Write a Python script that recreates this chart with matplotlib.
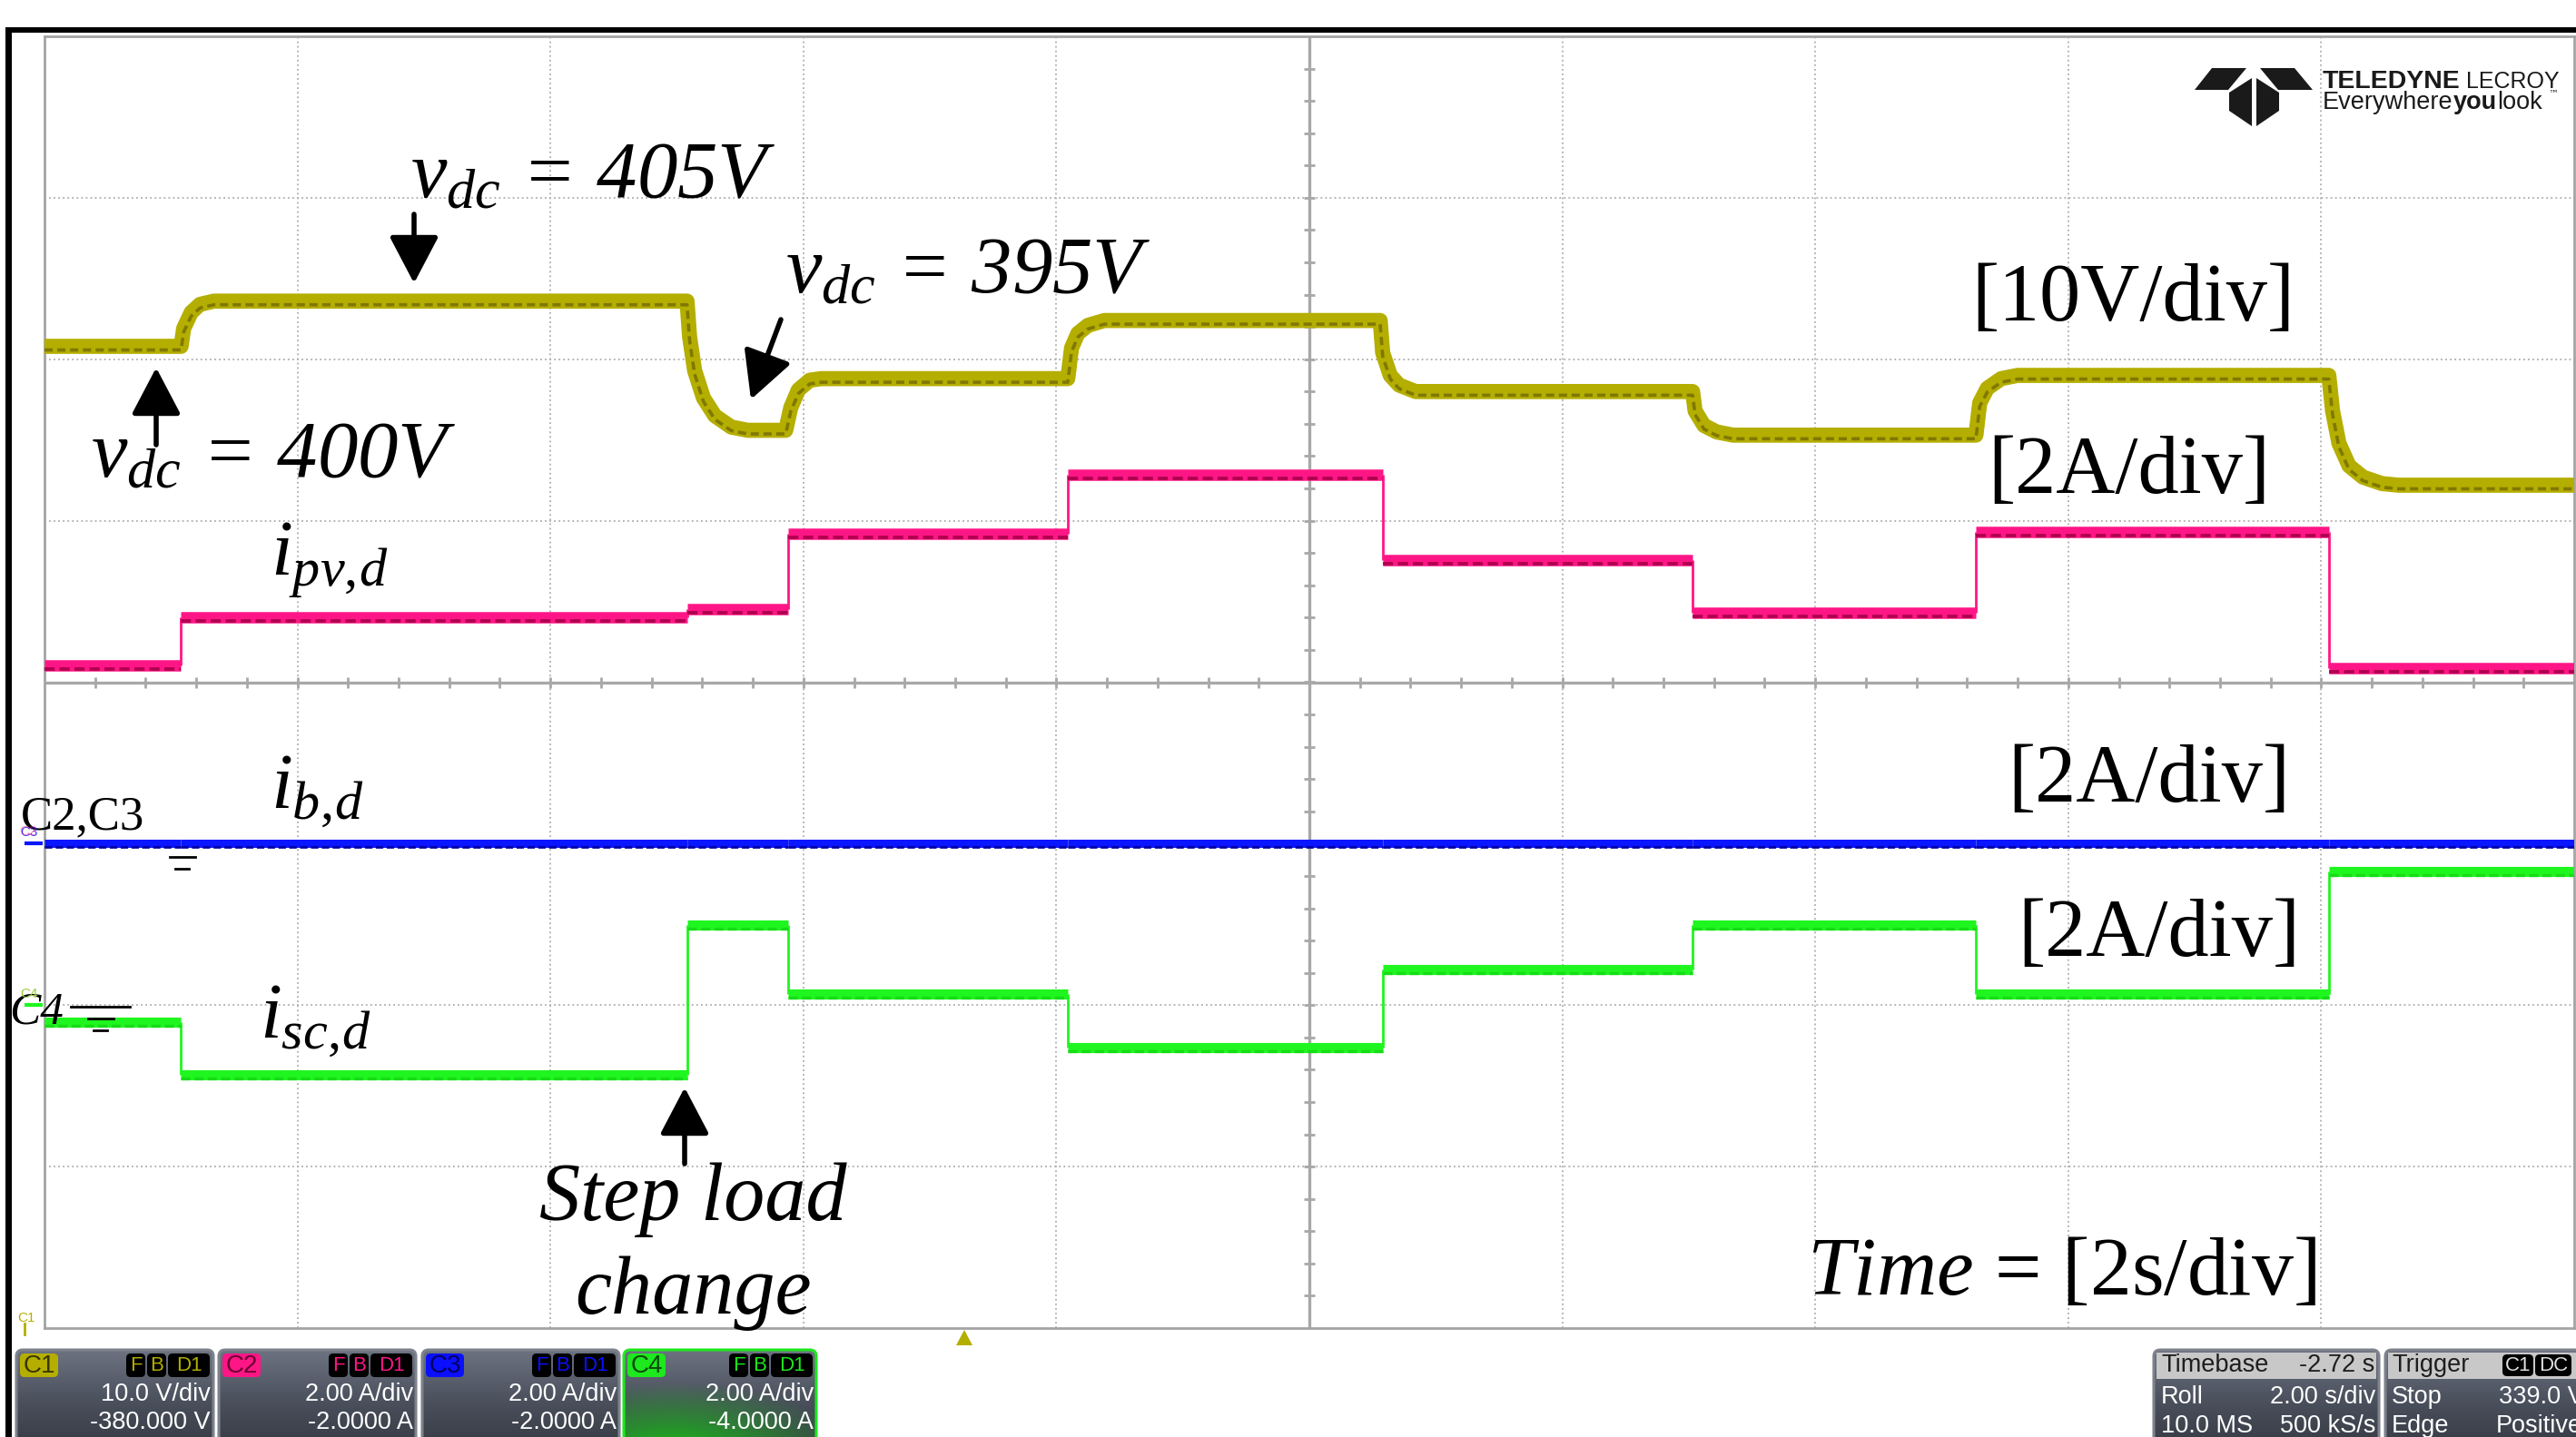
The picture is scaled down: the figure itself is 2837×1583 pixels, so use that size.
import numpy as np
import matplotlib
matplotlib.use("Agg")
import matplotlib.pyplot as plt
from matplotlib.patches import FancyBboxPatch, FancyArrowPatch, Polygon, Rectangle
from matplotlib.colors import LinearSegmentedColormap
from matplotlib.transforms import offset_copy

plt.rcParams['mathtext.fontset'] = 'custom'
plt.rcParams['mathtext.rm'] = 'Liberation Serif'
plt.rcParams['mathtext.it'] = 'Liberation Serif:italic'

W, H = 2837, 1583
# graticule edges in pixels
GX0, GX1, GY0, GY1 = 49, 2835, 40, 1463

# scope channel settings (from the readout)
C1_SCALE, C1_OFFSET = 10.0, -380.0   # V/div, V
C2_SCALE, C2_OFFSET = 2.0, -2.0      # A/div, A
C3_SCALE, C3_OFFSET = 2.0, -2.0
C4_SCALE, C4_OFFSET = 2.0, -4.0

# v_dc (C1) in volts, incl. settling points
vdc_t = [0.0, 1.08, 1.10, 1.16, 1.23, 1.34,
         5.08, 5.10, 5.14, 5.21, 5.30, 5.43, 5.56,
         5.86, 5.90, 5.96, 6.05, 6.14,
         8.09, 8.12, 8.17, 8.25, 8.38,
         10.56, 10.58, 10.64, 10.71, 10.84,
         13.03, 13.05, 13.12, 13.22, 13.35,
         15.27, 15.30, 15.36, 15.47, 15.60,
         18.06, 18.09, 18.14, 18.22, 18.33, 18.48, 18.61, 20.0]
vdc_v = [400.8, 400.8, 401.9, 402.9, 403.4, 403.6,
         403.6, 401.4, 399.3, 397.6, 396.5, 395.8, 395.6,
         395.6, 397.0, 398.1, 398.7, 398.8,
         398.8, 400.7, 401.6, 402.1, 402.4,
         402.4, 400.4, 399.0, 398.4, 398.0,
         398.0, 396.8, 395.9, 395.5, 395.3,
         395.3, 397.3, 398.2, 398.8, 399.0,
         399.0, 396.8, 394.8, 393.4, 392.7, 392.3, 392.2, 392.2]

# step currents: switching instants (s) and levels (A)
step_t = [0.0, 1.08, 5.08, 5.88, 8.09, 10.58, 13.03, 15.27, 18.06, 20.0]
ipv_a = [2.21, 2.80, 2.90, 3.84, 4.57, 3.51, 2.86, 3.86, 2.17]
ib_a = [0.0, 0.0, 0.0, 0.0, 0.0, 0.0, 0.0, 0.0, 0.0]
isc_a = [-0.21, -0.86, 0.99, 0.14, -0.53, 0.44, 0.99, 0.14, 1.66]

YEL, YEL_D = '#b4ae00', '#807800'
PNK, PNK_D = '#ff1686', '#b0004f'
BLU, BLU_D = '#0a16ff', '#0000a0'
GRN, GRN_D = '#1ff51f', '#17dc17'
GRID = '#adadad'


def to_div(vals, scale, offset):
    return (np.asarray(vals, dtype=float) + offset) / scale


fig = plt.figure(figsize=(W / 100, H / 100), dpi=100)
fig.patch.set_facecolor('white')

ax = fig.add_axes([GX0 / W, 1 - GY1 / H, (GX1 - GX0) / W, (GY1 - GY0) / H])
ax.set_xlim(0, 20)
ax.set_ylim(-4, 4)
ax.set_xticks([])
ax.set_yticks([])
for s in ax.spines.values():
    s.set_color('#a4a4a4')
    s.set_linewidth(2)

# graticule
for t in range(2, 20, 2):
    if t != 10:
        ax.axvline(t, color=GRID, lw=1.3, ls=(0, (1, 1.8)), zorder=1)
for d in range(-3, 4):
    if d != 0:
        ax.axhline(d, color=GRID, lw=1.3, ls=(0, (1, 1.8)), zorder=1)
ax.axvline(10, color='#a8a8a8', lw=2.4, zorder=1)
ax.axhline(0, color='#a8a8a8', lw=2.4, zorder=1)
mx = np.arange(0.4, 20, 0.4)
my = np.arange(-3.8, 4, 0.2)
ax.plot(mx, np.zeros_like(mx), ls='none', marker='|', ms=9, mew=2, color='#a8a8a8', zorder=1)
ax.plot(np.full_like(my, 10), my, ls='none', marker='_', ms=9, mew=2, color='#a8a8a8', zorder=1)

below = offset_copy(ax.transData, fig=fig, x=0, y=-4, units='dots')

# C1: v_dc
y1 = to_div(vdc_v, C1_SCALE, C1_OFFSET)
ax.plot(vdc_t, y1, color=YEL, lw=12, solid_joinstyle='round', solid_capstyle='butt', zorder=3)
ax.plot(vdc_t, y1, color=YEL_D, lw=2.6, ls=(0, (2.5, 1.4)), transform=below, zorder=4)


def draw_steps(levels, scale, offset, color, dark, band, thin):
    y = to_div(levels, scale, offset)
    t = np.asarray(step_t)
    ax.hlines(y, t[:-1], t[1:], color=color, lw=band, zorder=3)
    ax.vlines(t[1:-1], y[:-1], y[1:], color=color, lw=thin, zorder=3)
    ax.hlines(y, t[:-1], t[1:], color=dark, lw=band * 0.3, linestyles=(0, (3, 1.4)),
              transform=below, zorder=4)


draw_steps(ipv_a, C2_SCALE, C2_OFFSET, PNK, PNK_D, 9, 2)
draw_steps(ib_a, C3_SCALE, C3_OFFSET, BLU, BLU_D, 6.5, 2)
draw_steps(isc_a, C4_SCALE, C4_OFFSET, GRN, GRN_D, 8, 2)

# ---------------- overlay in pixel coordinates ----------------
ov = fig.add_axes([0, 0, 1, 1], zorder=5)
ov.patch.set_alpha(0)
ov.axis('off')
ov.set_xlim(0, W)
ov.set_ylim(H, 0)

# black frame
ov.add_patch(Rectangle((6, 30), 7, H, color='black', lw=0))
ov.add_patch(Rectangle((6, 30), W, 6, color='black', lw=0))

SERIF = 'Liberation Serif'


def label(x, y, s, size, style='normal', ha='left'):
    ov.text(x, y, s, fontsize=size, family=SERIF, style=style, ha=ha, va='baseline', color='black')


def arrow(x0, y0, x1, y1):
    ov.add_patch(FancyArrowPatch((x0, y0), (x1, y1),
                                 arrowstyle='-|>,head_length=0.8,head_width=0.42',
                                 mutation_scale=40, lw=4, color='black',
                                 shrinkA=0, shrinkB=0, zorder=6))


label(452, 217, r'$v_{dc}$ = 405V', 64, 'italic')
label(865, 322, r'$v_{dc}$ = 395V', 64, 'italic')
label(100, 525, r'$v_{dc}$ = 400V', 64, 'italic')
arrow(456, 236, 456, 312)
arrow(860, 352, 827, 440)
arrow(172, 490, 172, 405)
arrow(754, 1282, 754, 1198)

label(2171, 353, '[10V/div]', 65)
label(2189, 543, '[2A/div]', 65)
label(2211, 883, '[2A/div]', 65)
label(2222, 1053, '[2A/div]', 65)
label(1990, 1426, r'$Time$ = [2s/div]', 66)
label(763, 1344, 'Step load', 65, 'italic', ha='center')
label(763, 1447, 'change', 65, 'italic', ha='center')

label(298, 633, r'$i_{pv,\!d}$', 62)
label(298, 890, r'$i_{b,\!d}$', 62)
label(286, 1143, r'$i_{sc,\!d}$', 62)
label(23, 913, 'C2,C3', 38)
label(10, 1128, 'C4', 37, 'italic')

# small channel markers on the left
ov.text(22, 921, 'C3', fontsize=11, color=BLU, alpha=0.8, family='Liberation Sans')
ov.text(21, 920, 'C2', fontsize=11, color=PNK, alpha=0.5, family='Liberation Sans')
ov.plot([27, 47], [929, 929], color=BLU, lw=3, solid_capstyle='butt')
ov.text(22, 1099, 'C4', fontsize=11, color='#9ccf3a', family='Liberation Sans')
ov.plot([27, 47], [1107, 1107], color=GRN, lw=3, solid_capstyle='butt')
ov.text(19, 1456, 'C1', fontsize=11, color=YEL, family='Liberation Sans')
ov.plot([27, 27], [1458, 1470], color=YEL, lw=2)

# ground symbols
ov.plot([187, 215], [944, 944], color='black', lw=2)
ov.plot([193, 208], [957, 957], color='black', lw=2)
ov.plot([78, 143], [1109, 1109], color='black', lw=2)
ov.plot([97, 125], [1122, 1122], color='black', lw=2)
ov.plot([103, 118], [1135, 1135], color='black', lw=2)

# trigger position marker
ov.add_patch(Polygon([(1062, 1465), (1071, 1482), (1053, 1482)], closed=True, color=YEL, lw=0))

# Teledyne LeCroy logo
logo = [
    [(2436, 75), (2474, 75), (2454, 99), (2417, 99)],
    [(2489, 75), (2527, 75), (2547, 99), (2509, 99)],
    [(2455, 102), (2480, 86), (2480, 139), (2455, 122)],
    [(2510, 102), (2485, 86), (2485, 139), (2510, 122)],
]
for pts in logo:
    ov.add_patch(Polygon(pts, closed=True, color='#1a1a1a', lw=0))

fig.canvas.draw()
renderer = fig.canvas.get_renderer()


def text_run(x, y, parts):
    # consecutive pieces of one line with different weights
    for s, weight, size, gap in parts:
        t = ov.text(x, y, s, fontsize=size, fontweight=weight, family='Liberation Sans',
                    color='#1a1a1a', va='baseline')
        x = t.get_window_extent(renderer).x1 + gap


text_run(2558, 97, [('TELEDYNE', 'bold', 20.5, 6), ('LECROY', 'normal', 18, 0)])
text_run(2558, 120, [('Everywhere', 'normal', 19.5, 0), ('you', 'bold', 19.5, 0),
                     ('look', 'normal', 19.5, 1)])
ov.text(2806, 107, '™', fontsize=8, family='DejaVu Sans', color='#333333')

# ---------------- status bar ----------------
panel_cmap = LinearSegmentedColormap.from_list('panel', ['#6c7280', '#4a505c', '#353943'])
SANS = 'Liberation Sans'
PY0, PY1 = 1487, 1600


def panel(x0, x1, edge='#7d828c'):
    box = FancyBboxPatch((x0, PY0), x1 - x0, PY1 - PY0, boxstyle='round,pad=0,rounding_size=7',
                         fc='none', ec=edge, lw=2.2, zorder=4)
    ov.add_patch(box)
    im = ov.imshow(np.linspace(0, 1, 60).reshape(-1, 1), cmap=panel_cmap, aspect='auto',
                   extent=(x0, x1, PY1, PY0), interpolation='bilinear', zorder=2)
    im.set_clip_path(box)
    return box


def small_box(x, w, fc, text, tc, y=1491, h=26, size=18):
    ov.add_patch(FancyBboxPatch((x, y), w, h, boxstyle='round,pad=0,rounding_size=5',
                                fc=fc, ec='none', zorder=5))
    ov.text(x + w / 2, y + h / 2 + 1, text, fontsize=size, color=tc, family=SANS,
            ha='center', va='center', zorder=6)


channels = [
    (18, 235, 'C1', YEL, '#3a3500', '10.0 V/div', '-380.000 V'),
    (241, 458, 'C2', PNK, '#6a0030', '2.00 A/div', '-2.0000 A'),
    (465, 682, 'C3', '#0a10ff', '#000060', '2.00 A/div', '-2.0000 A'),
    (687, 899, 'C4', '#1ee81e', '#0a4a0a', '2.00 A/div', '-4.0000 A'),
]
for x0, x1, name, col, dark, vdiv, offs in channels:
    box = panel(x0, x1, edge=col if name == 'C4' else '#7d828c')
    if name == 'C4':
        yy, xx = np.mgrid[0:1:60j, 0:1:120j]
        r = np.hypot((xx - 0.25) / 0.9, (yy - 1.05) / 0.7)
        rgba = np.zeros((60, 120, 4))
        rgba[..., 1] = 0.75
        rgba[..., 0] = 0.1
        rgba[..., 2] = 0.1
        rgba[..., 3] = np.clip(1.05 - r, 0, 0.85)
        glow = ov.imshow(rgba, aspect='auto', extent=(x0, x1, PY1, PY0), zorder=3)
        glow.set_clip_path(box)
    small_box(x0 + 4, 42, col, name, dark, size=20)
    small_box(x1 - 96, 21, 'black', 'F', col, size=16)
    small_box(x1 - 73, 21, 'black', 'B', col, size=16)
    small_box(x1 - 50, 46, 'black', 'D1', col, size=16)
    ov.text(x1 - 3, 1536, vdiv, fontsize=19.5, color='white', family=SANS, ha='right', va='center', zorder=6)
    ov.text(x1 - 3, 1567, offs, fontsize=19.5, color='white', family=SANS, ha='right', va='center', zorder=6)

# timebase and trigger boxes
for x0, x1 in [(2372, 2620), (2627, 2900)]:
    panel(x0, x1)
    ov.add_patch(Rectangle((x0 + 3, 1490), x1 - x0 - 6, 29, color='#c8c8c8', lw=0, zorder=4))

ov.text(2380, 1504, 'Timebase', fontsize=19.5, color='#1e1e1e', family=SANS, va='center', zorder=6)
ov.text(2615, 1504, '-2.72 s', fontsize=19.5, color='#1e1e1e', family=SANS, ha='right', va='center', zorder=6)
ov.text(2380, 1539, 'Roll', fontsize=19.5, color='white', family=SANS, va='center', zorder=6)
ov.text(2616, 1539, '2.00 s/div', fontsize=19.5, color='white', family=SANS, ha='right', va='center', zorder=6)
ov.text(2380, 1571, '10.0 MS', fontsize=19.5, color='white', family=SANS, va='center', zorder=6)
ov.text(2616, 1571, '500 kS/s', fontsize=19.5, color='white', family=SANS, ha='right', va='center', zorder=6)

ov.text(2634, 1504, 'Trigger', fontsize=19.5, color='#1e1e1e', family=SANS, va='center', zorder=6)
small_box(2756, 34, 'black', 'C1', '#e0e0e0', y=1492, h=24, size=16)
small_box(2792, 40, 'black', 'DC', '#e0e0e0', y=1492, h=24, size=16)
ov.text(2634, 1539, 'Stop', fontsize=19.5, color='white', family=SANS, va='center', zorder=6)
ov.text(2846, 1539, '339.0 V', fontsize=19.5, color='white', family=SANS, ha='right', va='center', zorder=6)
ov.text(2634, 1571, 'Edge', fontsize=19.5, color='white', family=SANS, va='center', zorder=6)
ov.text(2844, 1571, 'Positive', fontsize=19.5, color='white', family=SANS, ha='right', va='center', zorder=6)

ov.set_xlim(0, W)
ov.set_ylim(H, 0)
ov.set_aspect('auto')

fig.savefig('out.png', dpi=100)
